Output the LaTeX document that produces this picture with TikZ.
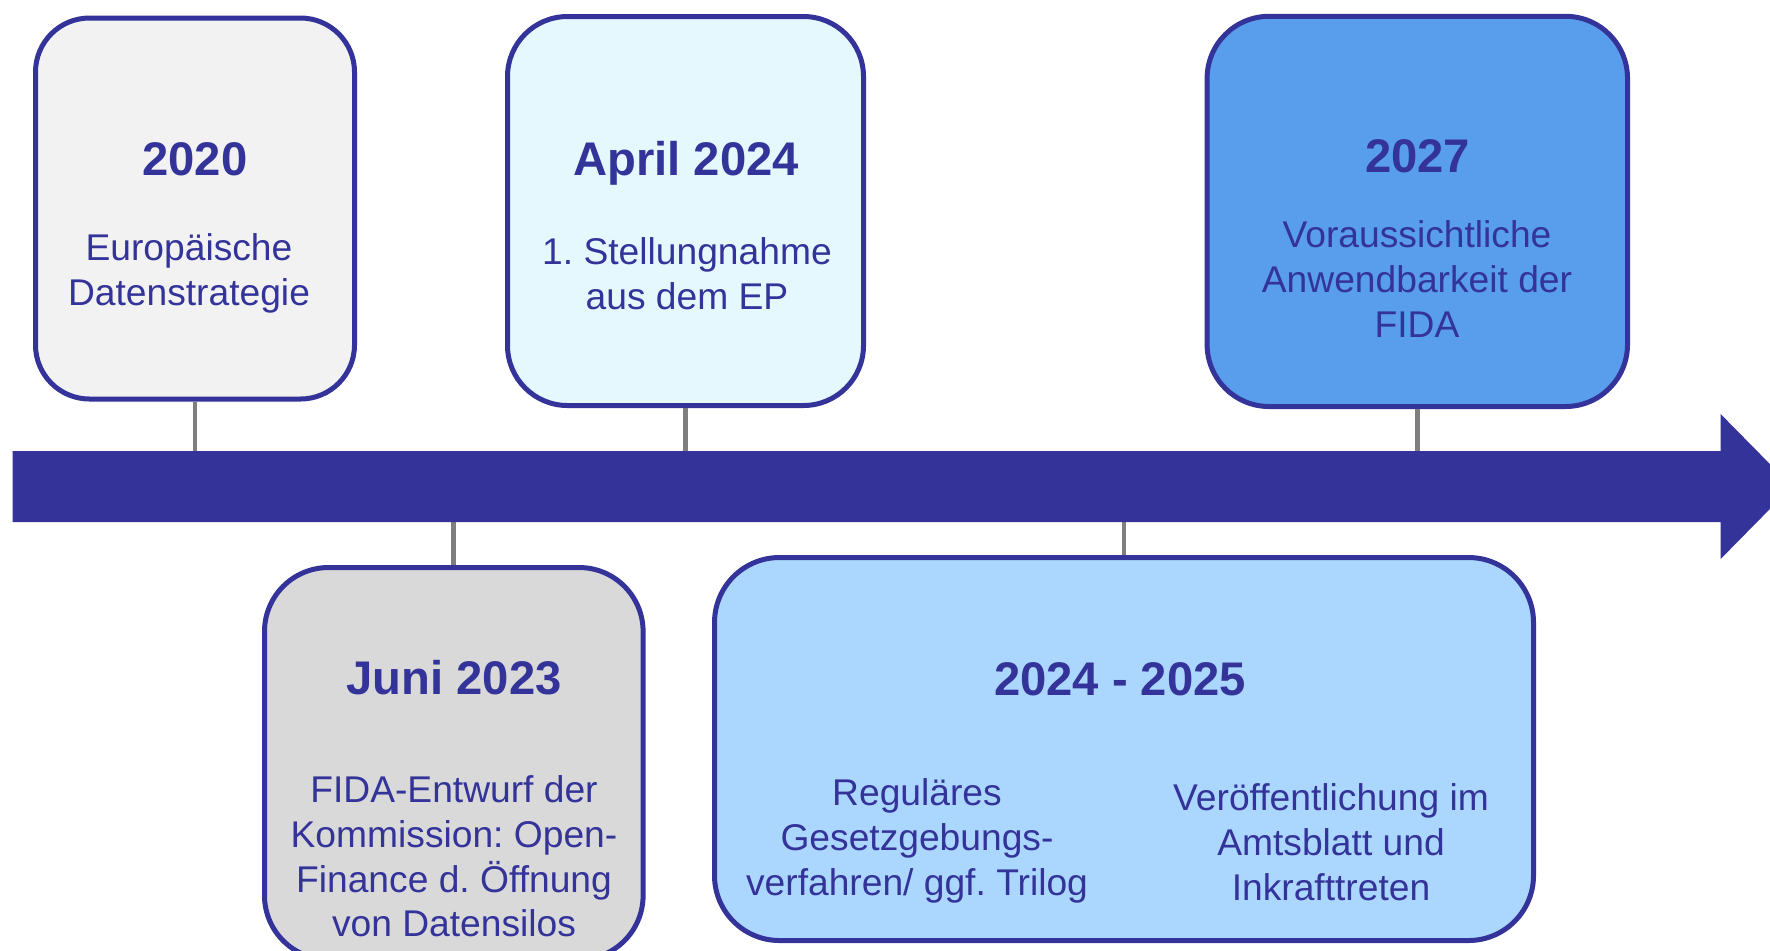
\documentclass[tikz,border=0pt]{standalone}
\usepackage{fontspec}
\setmainfont{Liberation Sans}
\frenchspacing
\definecolor{navy}{HTML}{333399}
\definecolor{cA}{HTML}{F2F2F2}
\definecolor{cB}{HTML}{E5F8FE}
\definecolor{cC}{HTML}{589EEC}
\definecolor{cD}{HTML}{D9D9D9}
\definecolor{cE}{HTML}{ABD7FE}
\definecolor{stemgray}{HTML}{7F7F7F}
\begin{document}
\begin{tikzpicture}[x=0.5pt,y=-0.5pt,
  evbox/.style={draw=navy, line width=2.5pt, inner sep=0pt, rectangle},
  title/.style={font=\fontsize{23.6pt}{28pt}\selectfont\bfseries, text=navy, inner sep=0pt, anchor=base},
  body/.style={font=\fontsize{18.6pt}{22.3pt}\selectfont, text=navy, align=center, inner sep=0pt, anchor=base},
  stem/.style={draw=stemgray, line width=2.4pt}]
\useasboundingbox (0,0) rectangle (1770,950);
% bar coordinates
\coordinate (bartop) at (0,451);
\coordinate (barbot) at (0,522);
% boxes
\node[evbox, fill=cA, rounded corners=27pt, minimum width=159.5pt, minimum height=190.5pt] (b2020) at (195,208.5) {};
\node[evbox, fill=cB, rounded corners=30pt, minimum width=178pt, minimum height=194.5pt] (bApr) at (685.5,211) {};
\node[evbox, fill=cC, rounded corners=31pt, minimum width=210.2pt, minimum height=195.1pt] (b2027) at (1417.3,211.4) {};
\node[evbox, fill=cD, rounded corners=32pt, minimum width=189.3pt, minimum height=196pt] (bJuni) at (453.8,763.5) {};
\node[evbox, fill=cE, rounded corners=32.5pt, minimum width=409.5pt, minimum height=191.5pt] (b2425) at (1124,749) {};
% stems
\draw[stem] (b2020.south) -- (b2020.south |- bartop);
\draw[stem] (bApr.south) -- (bApr.south |- bartop);
\draw[stem] (b2027.south) -- (b2027.south |- bartop);
\draw[stem] (bJuni.north) -- (bJuni.north |- barbot);
\draw[stem] (b2425.north) -- (b2425.north |- barbot);
% timeline arrow (tip runs past the right edge, as in the reference)
\fill[navy] (12.6,451) -- (1720.6,451) -- (1720.6,414) -- (1792,486.5) -- (1720.6,559) -- (1720.6,522) -- (12.6,522) -- cycle;
% texts (body nodes anchored at the baseline of their last line)
\node[title] (t2020) at (195,175.6) {2020};
\node[body] (d2020) at (189,305) {Europäische\\Datenstrategie};
\node[title] (tApr) at (686,175.6) {April 2024};
\node[body] (dApr) at (687,309) {1. Stellungnahme\\aus dem EP};
\node[title] (t2027) at (1417.5,172.7) {2027};
\node[body] (d2027) at (1417,337) {Voraussichtliche\\Anwendbarkeit der\\FIDA};
\node[title] (tJuni) at (454,694) {Juni 2023};
\node[body] (dJuni) at (454,936.7) {FIDA-Entwurf der\\Kommission: Open-\\Finance d. Öffnung\\von Datensilos};
\node[title] (t2425) at (1120,695) {2024 - 2025};
\node[body] (dReg) at (917,895) {Reguläres\\Gesetzgebungs-\\verfahren/ ggf. Trilog};
\node[body] (dVer) at (1331,900) {Veröffentlichung im\\Amtsblatt und\\Inkrafttreten};
\end{tikzpicture}
\end{document}
